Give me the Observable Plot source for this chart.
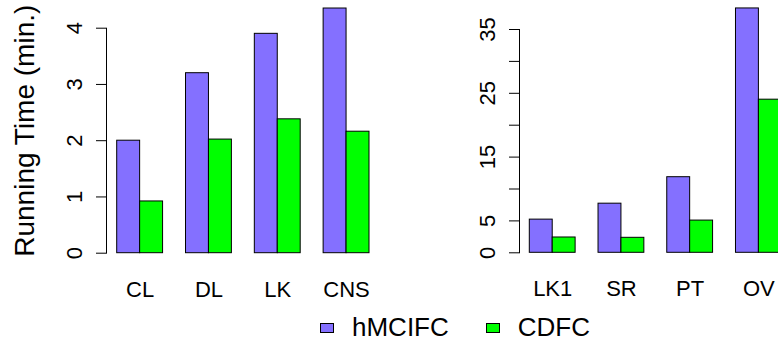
<!DOCTYPE html>
<html>
<head>
<meta charset="utf-8">
<script src="https://cdn.jsdelivr.net/npm/d3@7"></script>
<script src="https://cdn.jsdelivr.net/npm/@observablehq/plot@0.6"></script>
<style>
  html, body { margin: 0; padding: 0; background: #fff; overflow: hidden; }
  #chart { position: relative; width: 778px; height: 344px; overflow: hidden;
           font-family: "Liberation Sans", Arial, Helvetica, sans-serif; color: #000; }
  #chart svg { max-width: none !important; }
  #left { position: absolute; left: 0; top: 0; width: 390px; }
  #right { position: absolute; left: 400px; top: 0; width: 400px; }
  #legend { position: absolute; left: 320px; top: 313px; height: 29px; display: flex;
            align-items: center; font-size: 26px; line-height: 29px; }
  #legend .item { display: flex; align-items: center; }
  #legend .sw { display: inline-block; width: 12px; height: 8px; border: 1px solid #000; }
  #legend .lab { margin-left: 18px; }
  #legend .item + .item { margin-left: 37px; }
</style>
</head>
<body>
<div id="chart">
  <div id="left"></div>
  <div id="right"></div>
  <div id="legend"></div>
</div>
<script>
// Series and colours
const series = ["hMCIFC", "CDFC"];
const seriesColors = ["#8470FF", "#00FF00"];

// Left panel: smaller data sets
const leftCategories = ["CL", "DL", "LK", "CNS"];
const leftHMCIFC = [2.0, 3.2, 3.9, 4.35];
const leftCDFC = [0.92, 2.02, 2.38, 2.16];
const leftTicks = [0, 1, 2, 3, 4];
const leftTickLabels = [0, 1, 2, 3, 4];

// Right panel: larger data sets
const rightCategories = ["LK1", "SR", "PT", "OV"];
const rightHMCIFC = [5.2, 7.7, 11.85, 38.3];
const rightCDFC = [2.4, 2.35, 5.05, 24.0];
const rightTicks = [0, 5, 10, 15, 20, 25, 30, 35];
const rightTickLabels = [0, 5, 15, 25, 35];

const yTitle = "Running Time (min.)";
const font = "Liberation Sans, Arial, Helvetica, sans-serif";

function panel(o) {
  const rows = o.categories.map((c, i) => ({category: c, [series[0]]: o.a[i], [series[1]]: o.b[i]}));
  const paddingInner = 1 / 3;
  const span = o.width - o.marginLeft - o.marginRight - o.insetLeft - o.insetRight;
  // each group holds two adjacent bars filling the band
  const half = span / (o.categories.length - paddingInner) * (1 - paddingInner) / 2;
  const marks = [
    Plot.barY(rows, {x: "category", y: series[0], fill: seriesColors[0], stroke: "black", strokeWidth: 1, insetLeft: 0, insetRight: half}),
    Plot.barY(rows, {x: "category", y: series[1], fill: seriesColors[1], stroke: "black", strokeWidth: 1, insetLeft: half, insetRight: 0}),
    Plot.frame({anchor: "left", stroke: "black"}),
    Plot.axisY(o.ticks, {tickSize: 10, tickFormat: () => "", stroke: "black"}),
    Plot.text(o.labels, {y: d => d, text: d => String(d), frameAnchor: "left", dx: -25, rotate: -90,
      textAnchor: "middle", lineAnchor: "bottom", fontSize: 22, fill: "black"}),
    Plot.axisX({tickSize: 0, tickPadding: 28, fontSize: 22, fill: "black"})
  ];
  if (o.title) {
    marks.push(Plot.text([o.title], {frameAnchor: "left", dx: -73, dy: -10, rotate: -90,
      textAnchor: "middle", lineAnchor: "bottom", fontSize: 28, fill: "black"}));
  }
  return Plot.plot({
    width: o.width,
    height: o.height,
    marginLeft: o.marginLeft,
    marginRight: o.marginRight,
    marginTop: o.marginTop,
    marginBottom: o.marginBottom,
    style: {fontFamily: font, fontSize: "22px", color: "black", background: "white", overflow: "visible", maxWidth: "none"},
    x: {type: "band", domain: o.categories, paddingInner, paddingOuter: 0, round: false,
        insetLeft: o.insetLeft, insetRight: o.insetRight, label: null},
    y: {domain: [0, o.ticks[o.ticks.length - 1]], label: null},
    marks
  });
}

document.getElementById("left").append(panel({
  categories: leftCategories, a: leftHMCIFC, b: leftCDFC,
  ticks: leftTicks, labels: leftTickLabels, title: yTitle,
  width: 390, height: 300, marginLeft: 106, marginRight: 11, marginTop: 27.7, marginBottom: 47.3,
  insetLeft: 10.7, insetRight: 10
}));

document.getElementById("right").append(panel({
  categories: rightCategories, a: rightHMCIFC, b: rightCDFC,
  ticks: rightTicks, labels: rightTickLabels,
  width: 400, height: 300, marginLeft: 119, marginRight: 8.4, marginTop: 29, marginBottom: 47.7,
  insetLeft: 10.3, insetRight: 10.3
}));

// Legend below both panels
const legend = document.getElementById("legend");
series.forEach((s, i) => {
  const item = document.createElement("span");
  item.className = "item";
  const sw = document.createElement("span");
  sw.className = "sw";
  sw.style.background = seriesColors[i];
  const lab = document.createElement("span");
  lab.className = "lab";
  lab.textContent = s;
  item.append(sw, lab);
  legend.append(item);
});
</script>
</body>
</html>
